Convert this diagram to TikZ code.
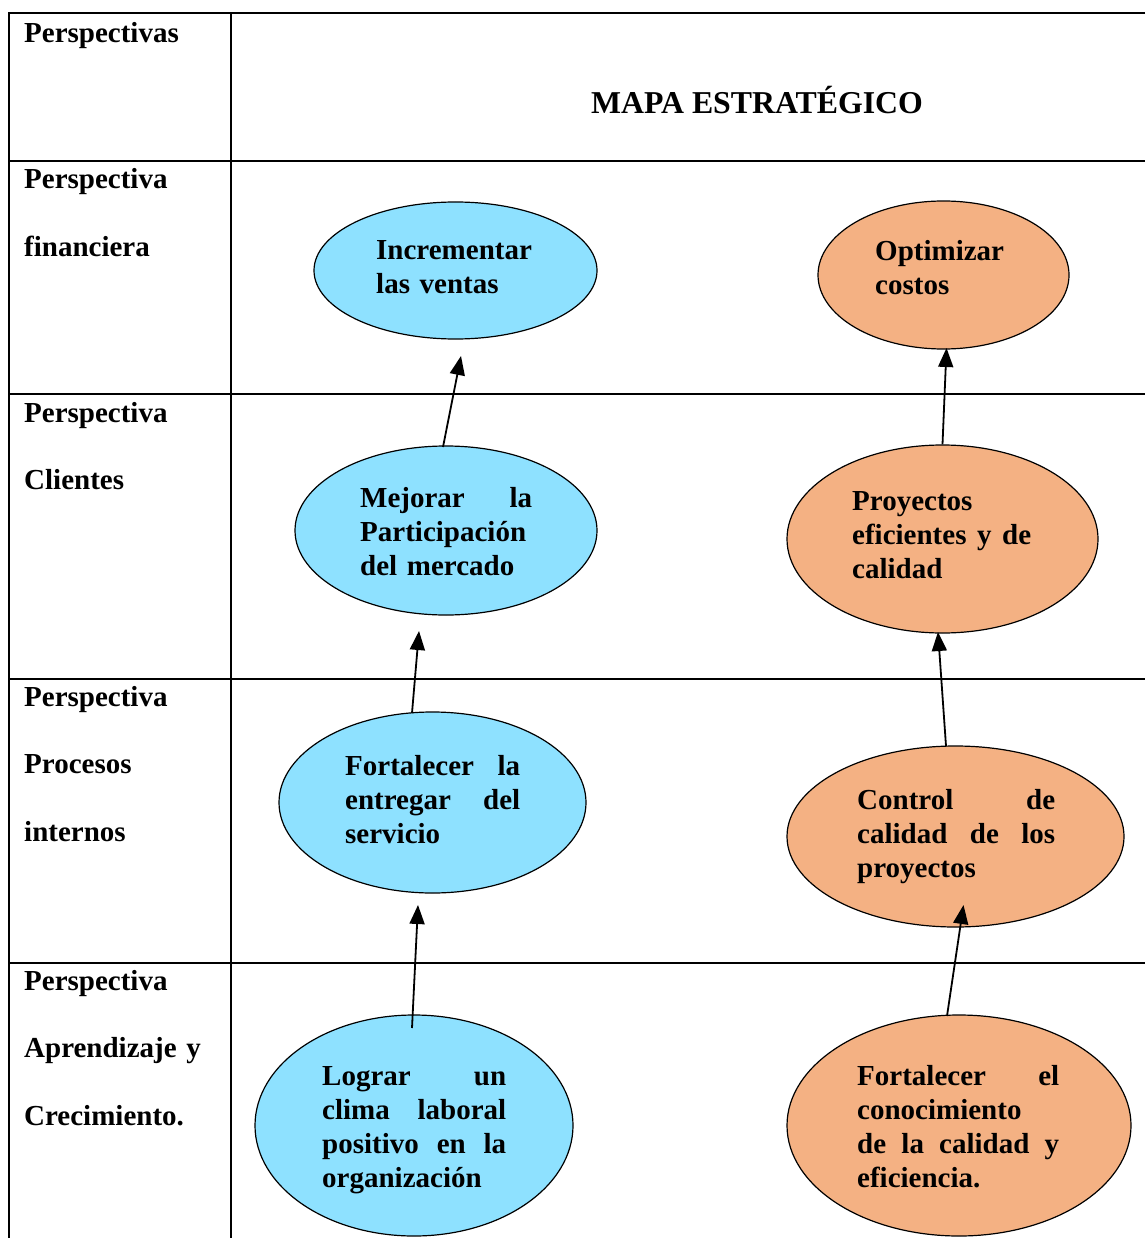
\documentclass[tikz,border=0pt]{standalone}
\usepackage{fontspec}
\setmainfont{Liberation Serif}
\usetikzlibrary{arrows.meta,shapes.geometric}
\definecolor{cblue}{HTML}{8EE1FF}
\definecolor{corange}{HTML}{F4B183}
\begin{document}
\begin{tikzpicture}[x=1pt,y=-1pt,
  grid/.style={line width=1.7pt},
  oval/.style={ellipse,draw=black,line width=1.2pt,inner sep=0pt},
  bluev/.style={oval,fill=cblue},
  orangev/.style={oval,fill=corange},
  txt/.style={inner sep=0pt,anchor=base west,align=left,
    font={\fontsize{29}{34}\selectfont\bfseries}},
  lefttxt/.style={inner sep=0pt,anchor=base west,align=left,
    font={\fontsize{29}{67.5}\selectfont\bfseries}},
  arr/.style={line width=1.8pt,-{Triangle[length=19pt,width=15pt]}}]
\useasboundingbox (0,0) rectangle (1145,1238);
% table
\draw[grid] (1145,13) -- (9,13) -- (9,1238);
\draw[grid] (231,13) -- (231,1238);
\draw[grid] (9,161) -- (1145,161);
\draw[grid] (9,394) -- (1145,394);
\draw[grid] (9,679) -- (1145,679);
\draw[grid] (9,963) -- (1145,963);
% left column texts
\node[lefttxt] (h0) at (24,43) {Perspectivas};
\node[lefttxt,text width=200pt] (h1) at (24,189) {Perspectiva\\financiera};
\node[lefttxt,text width=200pt] (h2) at (24,422) {Perspectiva\\Clientes};
\node[lefttxt,text width=200pt] (h3) at (24,706) {Perspectiva\\Procesos\\internos};
\node[lefttxt,text width=200pt] (h4) at (24,990) {Perspectiva\\Aprendizaje y\\Crecimiento.};
\node[inner sep=0pt,anchor=base,font={\fontsize{31.8}{36}\selectfont\bfseries}] (title) at (757,114) {MAPA ESTRATÉGICO};
% ellipses
\node[bluev,minimum width=283pt,minimum height=137pt] (e1) at (455.5,270.5) {};
\node[orangev,minimum width=251pt,minimum height=148pt] (e2) at (943.5,275) {};
\node[bluev,minimum width=302pt,minimum height=169pt] (e3) at (446,530.5) {};
\node[orangev,minimum width=311pt,minimum height=188pt] (e4) at (942.5,539) {};
\node[bluev,minimum width=307pt,minimum height=181pt] (e5) at (432.5,802.5) {};
\node[orangev,minimum width=337pt,minimum height=181pt] (e6) at (955.5,836.5) {};
\node[bluev,minimum width=318pt,minimum height=221pt] (e7) at (414,1125.5) {};
\node[orangev,minimum width=344pt,minimum height=221pt] (e8) at (959,1125.5) {};
% ellipse texts
\node[txt,text width=200pt] (t1) at (376,260) {Incrementar\\las ventas};
\node[txt,text width=200pt] (t2) at (875,261) {Optimizar\\costos};
\node[txt,text width=172pt] (t3) at (360,507) {Mejorar\hfill la\\Participación\\del mercado};
\node[txt,text width=179pt] (t4) at (852,510) {Proyectos\\eficientes\hfill y\hfill de\\calidad};
\node[txt,text width=175pt] (t5) at (345,775) {Fortalecer\hfill la\\entregar\hfill del\\servicio};
\node[txt,text width=198pt] (t6) at (857,809) {Control\hfill de\\calidad\hfill de\hfill los\\proyectos};
\node[txt,text width=184pt] (t7) at (322,1085) {Lograr\hfill un\\clima\hfill laboral\\positivo\hfill en\hfill la\\organización};
\node[txt,text width=202pt] (t8) at (857,1085) {Fortalecer\hfill el\\conocimiento\\de\hfill la\hfill calidad\hfill y\\eficiencia.};
% arrow tips
\coordinate (p1) at (461,356);
\coordinate (p2) at (946.5,348);
\coordinate (p3) at (419,631);
\coordinate (p4) at (938,632);
\coordinate (p5) at (418,905);
\coordinate (p6) at (963.5,905);
% arrows
\draw[arr] (443,447) -- (p1);
\draw[arr] (e4.north) -- (p2);
\draw[arr] (412,713) -- (p3);
\draw[arr] (946,746) -- (p4);
\draw[arr] (412,1028) -- (p5);
\draw[arr] (947,1016) -- (p6);
\end{tikzpicture}
\end{document}
